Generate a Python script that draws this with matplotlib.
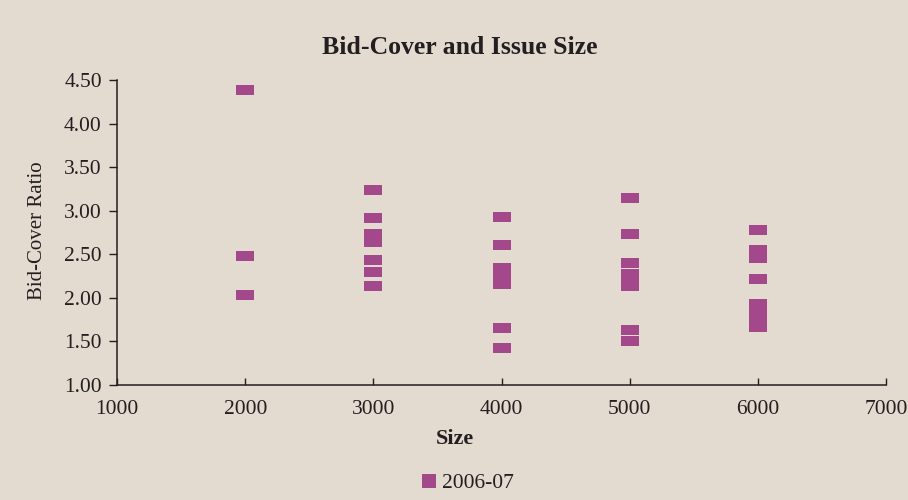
import matplotlib
matplotlib.use("Agg")
import matplotlib.pyplot as plt
from matplotlib.lines import Line2D

# issue size ($m) and bid-cover ratio
sizes = [2000, 2000, 2000,
         3000, 3000, 3000, 3000, 3000, 3000, 3000,
         4000, 4000, 4000, 4000, 4000, 4000, 4000,
         5000, 5000, 5000, 5000, 5000, 5000, 5000, 5000,
         6000, 6000, 6000, 6000, 6000, 6000, 6000, 6000]
ratios = [4.39, 2.48, 2.03,
          3.24, 2.92, 2.73, 2.64, 2.43, 2.30, 2.14,
          2.93, 2.61, 2.34, 2.25, 2.16, 1.65, 1.42,
          3.15, 2.73, 2.40, 2.27, 2.20, 2.14, 1.63, 1.50,
          2.78, 2.55, 2.46, 2.22, 1.93, 1.84, 1.75, 1.67]
series_name = "2006-07"

xticks = [1000, 2000, 3000, 4000, 5000, 6000, 7000]
yticks = [1.0, 1.5, 2.0, 2.5, 3.0, 3.5, 4.0, 4.5]

bg = "#e3dad0"
purple = "#a3488a"
ink = "#231f20"

plt.rcParams["font.family"] = ["Liberation Serif", "DejaVu Serif"]

fig = plt.figure(figsize=(9.08, 5.0), dpi=100, facecolor=bg)
ax = fig.add_axes([0.1289, 0.23, 0.8469, 0.61], facecolor=bg)

# flat rectangle marker, wider than tall
rect = [(-1, -0.6), (1, -0.6), (1, 0.6), (-1, 0.6), (-1, -0.6)]
ax.scatter(sizes, ratios, marker=rect, s=150, color=purple, linewidths=0,
           zorder=3)

ax.set_xlim(1000, 7000)
ax.set_ylim(1.0, 4.5)
ax.set_xticks(xticks)
ax.set_yticks(yticks)
ax.set_yticklabels(["%.2f" % v for v in yticks])
ax.tick_params(axis="y", direction="out", length=6, width=1, colors=ink,
               labelsize=15.5, pad=5)
ax.tick_params(axis="x", direction="in", length=5, width=1, colors=ink,
               labelsize=15.5, pad=11)

for s in ["top", "right"]:
    ax.spines[s].set_visible(False)
for s in ["left", "bottom"]:
    ax.spines[s].set_color(ink)
    ax.spines[s].set_linewidth(1.1)

ax.set_title("Bid-Cover and Issue Size", fontsize=18.5, fontweight="bold",
             color=ink, x=0.446, pad=19)
ax.set_xlabel("Size", fontsize=16, fontweight="bold", color=ink)
ax.xaxis.set_label_coords(0.4395, -0.145)
ax.set_ylabel("Bid-Cover Ratio", fontsize=15, color=ink)
ax.yaxis.set_label_coords(-0.091, 0.505)

handle = Line2D([], [], linestyle="none", marker="s", markersize=9.5,
                color=purple, markeredgewidth=0)
leg = fig.legend([handle], [series_name], loc="center",
                 bbox_to_anchor=(0.513, 0.034), frameon=False,
                 fontsize=15.5, handletextpad=0.1, handlelength=1.0)
for t in leg.get_texts():
    t.set_color(ink)

fig.savefig("out.png", dpi=100, facecolor=bg)
